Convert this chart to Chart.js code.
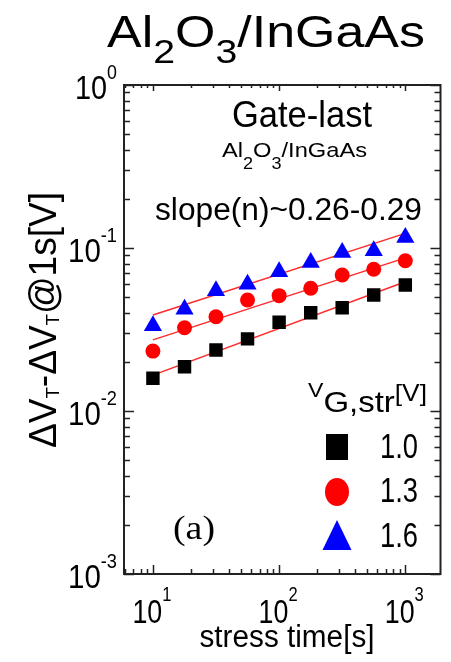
<!DOCTYPE html>
<html>
<head>
<meta charset="utf-8">
<script src="https://cdn.jsdelivr.net/npm/chart.js@4.4.1/dist/chart.umd.min.js"></script>
<style>
  html, body { margin: 0; padding: 0; background: #fff; }
  canvas { display: block; }
</style>
</head>
<body>
<canvas id="c" width="451" height="662"></canvas>
<script>
// stress time [s]
const stressTime = [10, 17.8, 31.6, 56.2, 100, 178, 316, 562, 1000];
// dVT - dVT@1s [V] for each V_G,str
const dv10 = [0.0159, 0.0187, 0.0237, 0.0277, 0.035, 0.0401, 0.043, 0.0515, 0.0593];
const dv13 = [0.0233, 0.0324, 0.0379, 0.048, 0.051, 0.0566, 0.0683, 0.074, 0.0835];
const dv16 = [0.0333, 0.0421, 0.0547, 0.06, 0.0715, 0.0815, 0.0937, 0.0961, 0.116];
// power-law fit lines (end points)
const fitTime = [10, 1000];
const fit10 = [0.0166, 0.0621];
const fit13 = [0.0273, 0.087];
const fit16 = [0.0388, 0.123];
// axes
const xTicks = [10, 100, 1000];
const xExp = ['1', '2', '3'];
const yTicks = [1, 0.1, 0.01, 0.001];
const yExp = ['0', '-1', '-2', '-3'];
const legendLabels = ['1.0', '1.3', '1.6'];

const NARROW = '"Liberation Sans Narrow", "Arial Narrow", "Liberation Sans", Arial, sans-serif';
const SANS = '"Liberation Sans", Arial, Helvetica, sans-serif';
const SERIF = '"Liberation Serif", "Times New Roman", serif';

const pts = (xs, ys) => xs.map((x, i) => ({ x, y: ys[i] }));

// draws a run of text pieces [text, size, dy, family], optionally squeezed to a width
function rich(ctx, segs, x, y, width, align) {
    let w = 0;
    segs.forEach(s => { ctx.font = s[1] + 'px ' + (s[3] || NARROW); s.w = ctx.measureText(s[0]).width; w += s.w; });
    const k = width ? width / w : 1;
    ctx.save();
    ctx.translate(x, y);
    ctx.scale(k, 1);
    let cx = align === 'center' ? -w / 2 : align === 'right' ? -w : 0;
    ctx.textAlign = 'left';
    ctx.textBaseline = 'alphabetic';
    segs.forEach(s => { ctx.font = s[1] + 'px ' + (s[3] || NARROW); ctx.fillText(s[0], cx, s[2] || 0); cx += s.w; });
    ctx.restore();
}

const decor = {
    id: 'decor',
    afterDraw(chart) {
        const ctx = chart.ctx;
        const a = chart.chartArea;
        const xs = chart.scales.x, ys = chart.scales.y;
        ctx.save();
        ctx.fillStyle = '#000';
        ctx.strokeStyle = '#222';

        // frame
        ctx.lineWidth = 2;
        ctx.strokeRect(a.left, a.top, a.right - a.left, a.bottom - a.top);

        // inward ticks
        ctx.lineWidth = 1.5;
        ctx.beginPath();
        for (let d = -3; d <= 0; d++) {
            for (let m = 1; m <= 9; m++) {
                const v = m * Math.pow(10, d);
                if (v < ys.min || v > ys.max) continue;
                const py = Math.round(ys.getPixelForValue(v)) + 0.5;
                const len = m === 1 ? 10 : 6;
                ctx.moveTo(a.left, py); ctx.lineTo(a.left + len, py);
                ctx.moveTo(a.right, py); ctx.lineTo(a.right - len, py);
            }
        }
        for (let d = 0; d <= 3; d++) {
            for (let m = 1; m <= 9; m++) {
                const v = m * Math.pow(10, d);
                if (v < xs.min || v > xs.max) continue;
                const px = Math.round(xs.getPixelForValue(v)) + 0.5;
                ctx.moveTo(px, a.bottom); ctx.lineTo(px, a.bottom - (m === 1 ? 9 : 5));
                ctx.moveTo(px, a.top); ctx.lineTo(px, a.top + (m === 1 ? 6 : 3));
            }
        }
        ctx.stroke();

        // tick labels
        xTicks.forEach((v, i) => {
            rich(ctx, [['10', 34], [xExp[i], 21, -22]], xs.getPixelForValue(v) - 1, 623, 39, 'center');
        });
        yTicks.forEach((v, i) => {
            const py = ys.getPixelForValue(v);
            rich(ctx, [['10', 34], [yExp[i], 21, -20]], 117, py + 14, yExp[i].length > 1 ? 49 : 42, 'right');
        });

        // axis titles
        rich(ctx, [['stress time[s]', 31]], 287, 647, 175, 'center');
        ctx.save();
        ctx.translate(56, 320);
        ctx.rotate(-Math.PI / 2);
        rich(ctx, [['\u0394V', 38], ['T', 19, 3], ['-\u0394V', 38], ['T', 19, 3], ['@1s[V]', 38]], 0, 0, 256, 'center');
        ctx.restore();

        // heading above the plot
        rich(ctx, [['Al', 45, 0, SANS], ['2', 34, 16, SANS], ['O', 45, 0, SANS], ['3', 34, 16, SANS], ['/InGaAs', 45, 0, SANS]], 107, 47, 318, 'left');

        // annotations inside the plot
        rich(ctx, [['Gate-last', 37]], 232, 127, 140, 'left');
        rich(ctx, [['Al', 21], ['2', 16, 12], ['O', 21], ['3', 16, 12], ['/InGaAs', 21]], 222, 157, 145, 'left');
        rich(ctx, [['slope(n)~0.26-0.29', 31]], 155, 220, 267, 'left');
        rich(ctx, [['(a)', 33, 0, SERIF]], 173, 539, 42, 'left');

        // legend
        rich(ctx, [['V', 21, -15], ['G,str', 30], ['[V]', 24, -11]], 308, 412, 119, 'left');
        const lx = 337;
        ctx.fillStyle = '#000';
        ctx.fillRect(lx - 11, 447 - 13, 22, 26);
        ctx.fillStyle = '#ff0000';
        ctx.beginPath(); ctx.ellipse(lx, 492, 12, 14, 0, 0, Math.PI * 2); ctx.fill();
        ctx.fillStyle = '#0000ff';
        ctx.beginPath(); ctx.moveTo(lx, 520); ctx.lineTo(lx + 14.5, 550); ctx.lineTo(lx - 14.5, 550); ctx.closePath(); ctx.fill();
        ctx.fillStyle = '#000';
        [458, 502, 547].forEach((by, i) => rich(ctx, [[legendLabels[i], 35]], 380, by, 38, 'left'));
        ctx.restore();
    }
};

new Chart(document.getElementById('c'), {
    type: 'scatter',
    data: {
        datasets: [
            { label: '1.0', data: pts(stressTime, dv10), pointStyle: 'rect', pointRadius: 9.5, backgroundColor: '#000', borderWidth: 0 },
            { label: '1.3', data: pts(stressTime, dv13), pointStyle: 'circle', pointRadius: 7.5, backgroundColor: '#ff0000', borderWidth: 0 },
            { label: '1.6', data: pts(stressTime, dv16), pointStyle: 'triangle', pointRadius: 10.5, backgroundColor: '#0000ff', borderWidth: 0 },
            { label: 'fit 1.0', data: pts(fitTime, fit10), showLine: true, pointRadius: 0, borderColor: '#ff2a2a', borderWidth: 1.5 },
            { label: 'fit 1.3', data: pts(fitTime, fit13), showLine: true, pointRadius: 0, borderColor: '#ff2a2a', borderWidth: 1.5 },
            { label: 'fit 1.6', data: pts(fitTime, fit16), showLine: true, pointRadius: 0, borderColor: '#ff2a2a', borderWidth: 1.5 }
        ]
    },
    options: {
        responsive: false,
        animation: false,
        layout: { padding: { left: 124, right: 2, top: 85, bottom: 88 } },
        plugins: { legend: { display: false }, tooltip: { enabled: false } },
        scales: {
            x: { type: 'logarithmic', min: 5.9, max: 1900, display: false },
            y: { type: 'logarithmic', min: 0.001, max: 1, display: false }
        }
    },
    plugins: [decor]
});
</script>
</body>
</html>
